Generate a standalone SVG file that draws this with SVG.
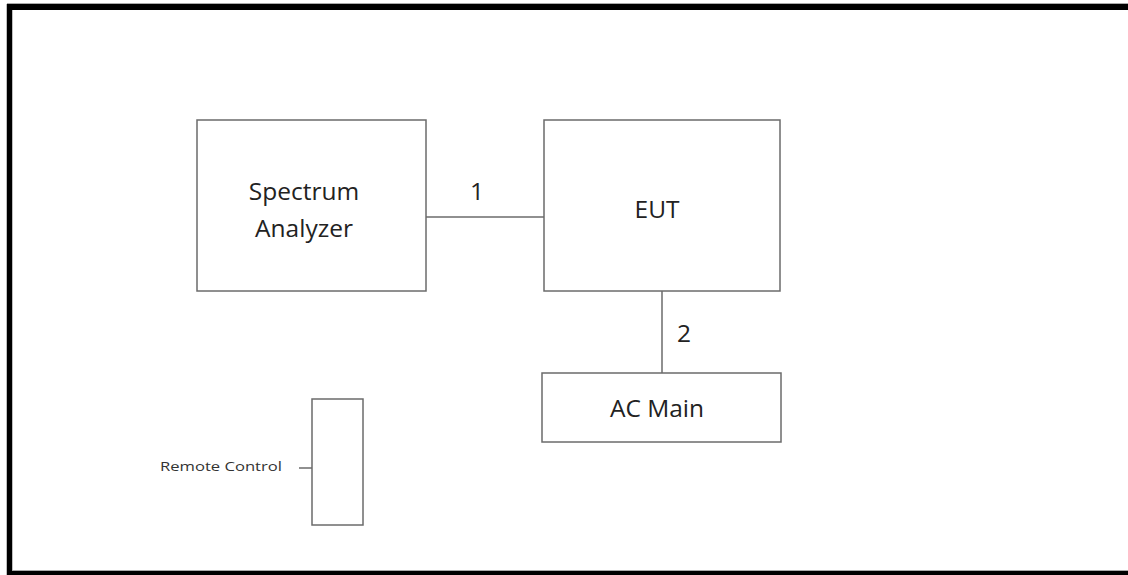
<svg xmlns="http://www.w3.org/2000/svg" width="1128" height="575" viewBox="0 0 1128 575">
<style>
.box{fill:#fff;stroke:#6b6b6b;stroke-width:1.5}
.ln{stroke:#6b6b6b;stroke-width:1.5;fill:none}
.t{font-family:"Open Sans","Liberation Sans",sans-serif;fill:#222;text-anchor:middle;font-size:24.5px}
</style>
<rect width="1128" height="575" fill="#fff"/>
<g id="frame">
<line x1="7" y1="3.5" x2="1128" y2="3.5" stroke="#aaa" stroke-width="1"/>
<line x1="7" y1="7" x2="1128" y2="7" stroke="#000" stroke-width="6"/>
<line x1="9.5" y1="4" x2="9.5" y2="575" stroke="#000" stroke-width="5.5"/>
<line x1="12" y1="570.5" x2="1128" y2="570.5" stroke="#aaa" stroke-width="1"/>
<line x1="7" y1="573.5" x2="1128" y2="573.5" stroke="#000" stroke-width="5"/>
</g>
<g id="connectors">
<line class="ln" x1="426" y1="217" x2="544" y2="217"/>
<line class="ln" x1="662" y1="291" x2="662" y2="373"/>
<line class="ln" x1="299" y1="468" x2="312" y2="468"/>
</g>
<g id="spectrum-analyzer">
<rect class="box" x="197" y="120" width="229" height="171"/>
<text class="t" x="304" y="200">Spectrum</text>
<text class="t" x="304" y="237">Analyzer</text>
</g>
<g id="eut">
<rect class="box" x="544" y="120" width="236" height="171"/>
<text class="t" x="657" y="218">EUT</text>
</g>
<g id="ac-main">
<rect class="box" x="542" y="373" width="239" height="69"/>
<text class="t" x="657" y="417">AC Main</text>
</g>
<g id="remote-control">
<rect class="box" x="312" y="399" width="51" height="126"/>
<text x="160" y="471" font-family="Open Sans, Liberation Sans, sans-serif" font-size="13" fill="#333" textLength="122" lengthAdjust="spacingAndGlyphs">Remote Control</text>
</g>
<g id="labels">
<text class="t" x="477" y="200">1</text>
<text class="t" x="684" y="342">2</text>
</g>
</svg>
